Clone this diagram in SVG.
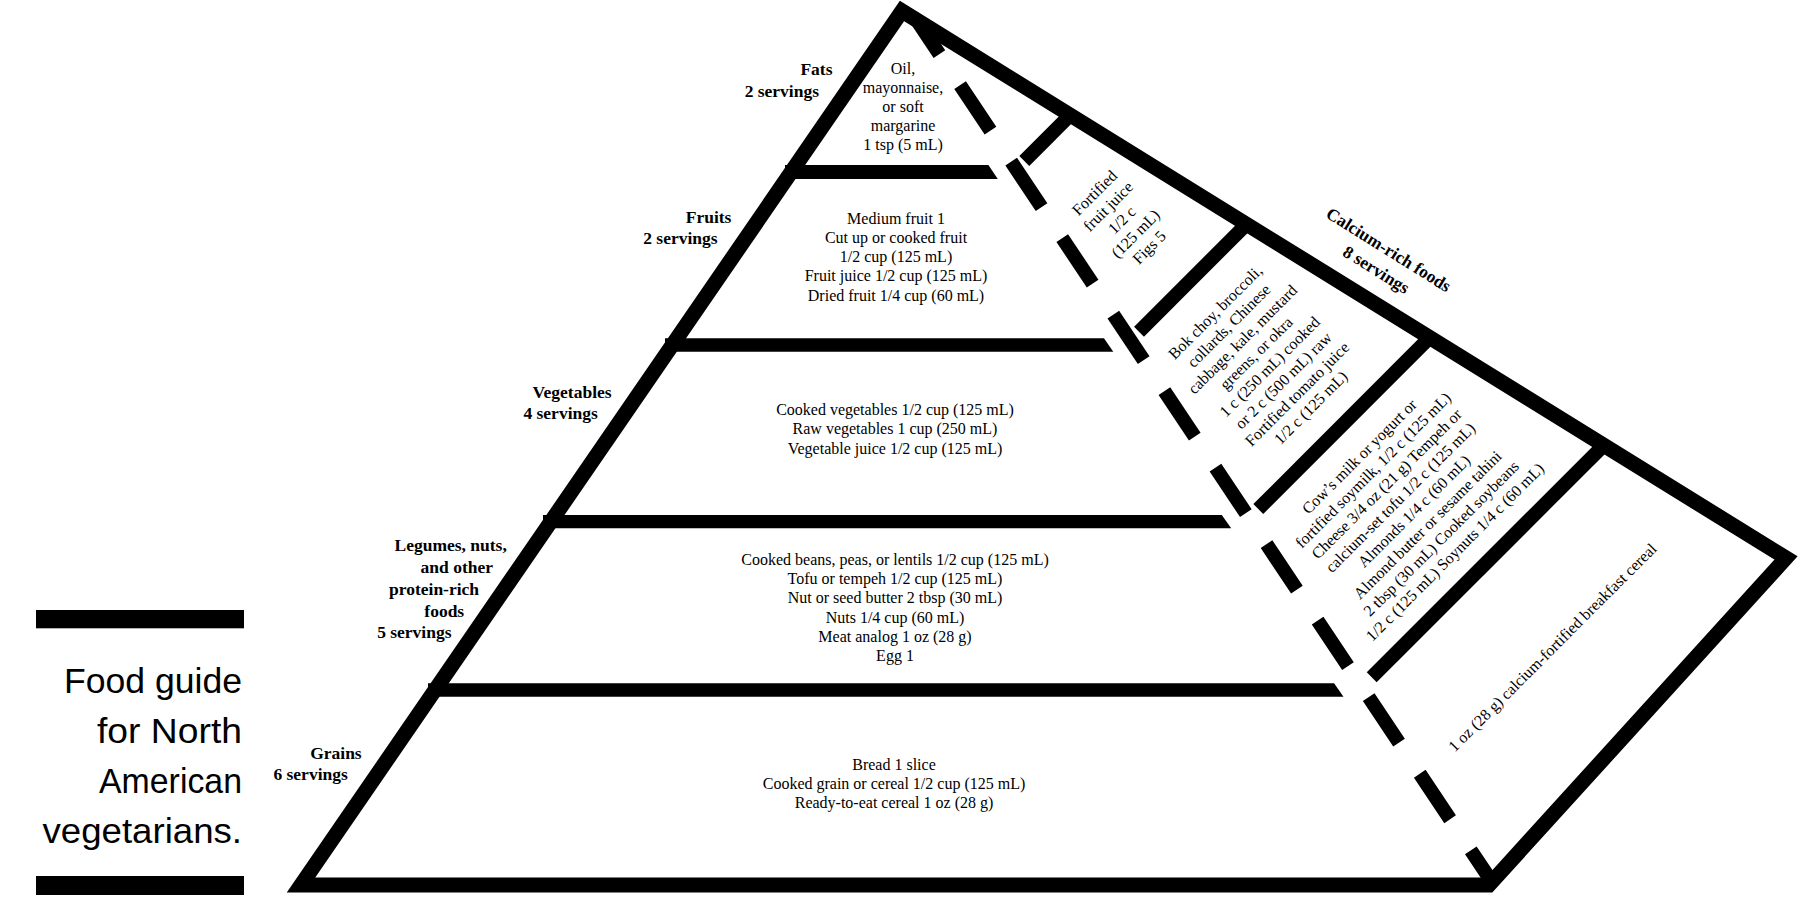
<svg xmlns="http://www.w3.org/2000/svg" width="1806" height="918" viewBox="0 0 1806 918">
<style>
.edge{fill:none;stroke:#000;stroke-width:15;stroke-linejoin:miter;stroke-miterlimit:10}
.div{fill:#000;stroke:none}
.rdiv{stroke:#000;stroke-width:14;stroke-linecap:butt;fill:none}
.dash{stroke:#000;stroke-width:14;stroke-linecap:butt;fill:none;stroke-dasharray:54.7 37.3;stroke-dashoffset:13.8}
.lbl{font-family:"Liberation Serif","Times New Roman",serif;font-weight:bold;font-size:17.5px;fill:#000;text-anchor:end}
.txt{font-family:"Liberation Serif","Times New Roman",serif;font-size:16px;fill:#000;text-anchor:middle}
.clbl{font-family:"Liberation Serif","Times New Roman",serif;font-weight:bold;font-size:17.5px;fill:#000;text-anchor:middle}
.title{font-family:"Liberation Sans",Arial,sans-serif;font-size:34.5px;fill:#000;text-anchor:end}
</style>
<rect width="1806" height="918" fill="#fff"/>

<g id="title">
  <rect x="36" y="610" width="208" height="18.3" fill="#000"/>
  <rect x="36" y="876" width="208" height="19" fill="#000"/>
  <text class="title" x="242" y="693.3" textLength="178" lengthAdjust="spacingAndGlyphs">Food guide</text>
  <text class="title" x="242" y="743.3" textLength="145" lengthAdjust="spacingAndGlyphs">for North</text>
  <text class="title" x="242" y="793.3" textLength="143" lengthAdjust="spacingAndGlyphs">American</text>
  <text class="title" x="242" y="842.8" textLength="199.5" lengthAdjust="spacingAndGlyphs">vegetarians.</text>
</g>

<g id="connectors">
  <polygon id="outline" class="edge" points="902,11 1786,558 1489,885 301,885"/>
  <polygon class="div" points="785,165 988.4,165 997.8,179 785,179"/>
  <polygon class="div" points="665,338.3 1104,338.3 1113.3,351.7 665,351.7"/>
  <polygon class="div" points="543,515 1221.8,515 1231.2,528.3 543,528.3"/>
  <polygon class="div" points="428,683.3 1334.1,683.3 1343.5,696.7 428,696.7"/>
  <line class="rdiv" x1="1070" y1="115.3" x2="1024.3" y2="161"/>
  <line class="rdiv" x1="1246" y1="224.7" x2="1139" y2="331.7"/>
  <line class="rdiv" x1="1429" y1="338.3" x2="1258.3" y2="509"/>
  <line class="rdiv" x1="1602.8" y1="446.2" x2="1371.7" y2="677.3"/>
  <path class="dash" d="M916.7,20 L1490,879"/>
</g>

<g id="fats">
  <text class="lbl" x="832.5" y="75">Fats</text>
  <text class="lbl" x="819" y="97">2 servings</text>
  <text class="txt" x="903"><tspan x="903" y="74.3">Oil,</tspan><tspan x="903" y="93.1">mayonnaise,</tspan><tspan x="903" y="111.9">or soft</tspan><tspan x="903" y="130.7">margarine</tspan><tspan x="903" y="149.5">1 tsp (5 mL)</tspan></text>
</g>

<g id="fruits">
  <text class="lbl" x="731.4" y="222.5">Fruits</text>
  <text class="lbl" x="717.6" y="244.4">2 servings</text>
  <text class="txt"><tspan x="896" y="223.5">Medium fruit 1</tspan><tspan x="896" y="242.8">Cut up or cooked fruit</tspan><tspan x="896" y="262.1">1/2 cup (125 mL)</tspan><tspan x="896" y="281.4">Fruit juice 1/2 cup (125 mL)</tspan><tspan x="896" y="300.7">Dried fruit 1/4 cup (60 mL)</tspan></text>
</g>

<g id="vegetables">
  <text class="lbl" x="611.6" y="397.6">Vegetables</text>
  <text class="lbl" x="597.8" y="418.6">4 servings</text>
  <text class="txt"><tspan x="895" y="415">Cooked vegetables 1/2 cup (125 mL)</tspan><tspan x="895" y="434.3">Raw vegetables 1 cup (250 mL)</tspan><tspan x="895" y="453.6">Vegetable juice 1/2 cup (125 mL)</tspan></text>
</g>

<g id="legumes">
  <text class="lbl"><tspan x="506.8" y="550.8">Legumes, nuts,</tspan><tspan x="493" y="572.7">and other</tspan><tspan x="479.1" y="594.6">protein-rich</tspan><tspan x="464.2" y="616.5">foods</tspan><tspan x="451.5" y="638.3">5 servings</tspan></text>
  <text class="txt"><tspan x="895" y="565">Cooked beans, peas, or lentils 1/2 cup (125 mL)</tspan><tspan x="895" y="584.2">Tofu or tempeh 1/2 cup (125 mL)</tspan><tspan x="895" y="603.4">Nut or seed butter 2 tbsp (30 mL)</tspan><tspan x="895" y="622.6">Nuts 1/4 cup (60 mL)</tspan><tspan x="895" y="641.8">Meat analog 1 oz (28 g)</tspan><tspan x="895" y="661">Egg 1</tspan></text>
</g>

<g id="grains">
  <text class="lbl" x="361.7" y="759.3">Grains</text>
  <text class="lbl" x="347.8" y="780">6 servings</text>
  <text class="txt"><tspan x="894" y="769.8">Bread 1 slice</tspan><tspan x="894" y="789.1">Cooked grain or cereal 1/2 cup (125 mL)</tspan><tspan x="894" y="808.4">Ready-to-eat cereal 1 oz (28 g)</tspan></text>
</g>

<g id="calcium">
  <text class="clbl" transform="translate(1388.5,250) rotate(32)"><tspan x="0" y="5.5">Calcium-rich foods</tspan><tspan x="0" y="29">8 servings</tspan></text>
  <text class="txt" transform="translate(1121.7,220) rotate(-45)"><tspan x="0" y="-33.1">Fortified</tspan><tspan x="0" y="-13.8">fruit juice</tspan><tspan x="0" y="5.5">1/2 c</tspan><tspan x="0" y="24.8">(125 mL)</tspan><tspan x="0" y="44.1">Figs 5</tspan></text>
  <text class="txt" transform="translate(1262.8,359.8) rotate(-45)"><tspan x="0" y="-62">Bok choy, broccoli,</tspan><tspan x="0" y="-42.7">collards, Chinese</tspan><tspan x="0" y="-23.4">cabbage, kale, mustard</tspan><tspan x="0" y="-4.1">greens, or okra</tspan><tspan x="0" y="15.2">1 c (250 mL) cooked</tspan><tspan x="0" y="34.5">or 2 c (500 mL) raw</tspan><tspan x="0" y="53.8">Fortified tomato juice</tspan><tspan x="0" y="73.1">1/2 c (125 mL)</tspan></text>
  <text class="txt" transform="translate(1407,504.2) rotate(-45)"><tspan x="0" y="-62">Cow’s milk or yogurt or</tspan><tspan x="0" y="-42.7">fortified soymilk, 1/2 c (125 mL)</tspan><tspan x="0" y="-23.4">Cheese 3/4 oz (21 g) Tempeh or</tspan><tspan x="0" y="-4.1">calcium-set tofu 1/2 c (125 mL)</tspan><tspan x="0" y="15.2">Almonds 1/4 c (60 mL)</tspan><tspan x="0" y="34.5">Almond butter or sesame tahini</tspan><tspan x="0" y="53.8">2 tbsp (30 mL) Cooked soybeans</tspan><tspan x="0" y="73.1">1/2 c (125 mL) Soynuts 1/4 c (60 mL)</tspan></text>
  <text class="txt" transform="translate(1552.3,647.3) rotate(-45)"><tspan x="0" y="5.5">1 oz (28 g) calcium-fortified breakfast cereal</tspan></text>
</g>
</svg>
